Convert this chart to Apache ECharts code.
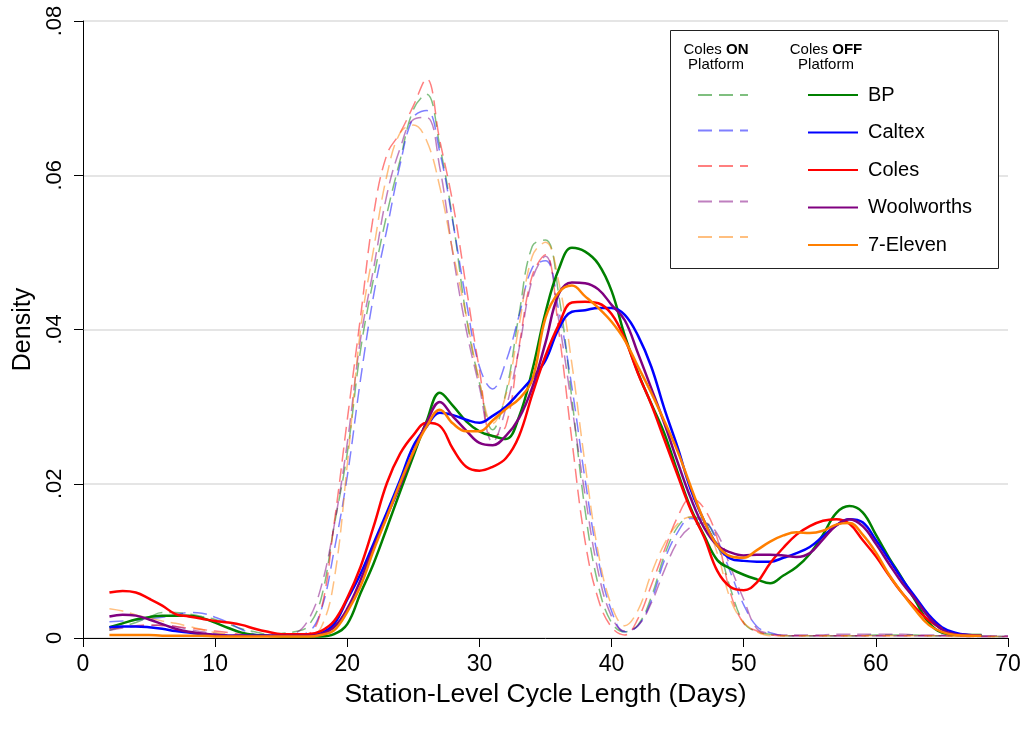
<!DOCTYPE html>
<html>
<head>
<meta charset="utf-8">
<script src="https://cdn.jsdelivr.net/npm/echarts@6/dist/echarts.min.js"></script>
<style>html,body{margin:0;padding:0;background:#fff}#chart{width:1024px;height:732px}</style>
</head>
<body>
<div id="chart"></div>
<script>
// ---- data ----
const days = [2,3,4,5,6,7,8,9,10,11,12,13,14,15,16,17,18,19,20,21,22,23,24,25,26,27,28,29,30,31,32,33,34,35,36,37,38,39,40,41,42,43,44,45,46,47,48,49,50,51,52,53,54,55,56,57,58,59,60,61,62,63,64,65,66,67,68,69,70];
const brands = ['BP', 'Caltex', 'Coles', 'Woolworths', '7-Eleven'];
const xTicks = [0, 10, 20, 30, 40, 50, 60, 70];
const yTicks = [0, 0.02, 0.04, 0.06, 0.08];

// Coles OFF platform (solid)
const bpOff = [0.0014,0.0019,0.0024,0.0027,0.0029,0.0029,0.0029,0.0026,0.0020,0.0013,0.0007,0.0004,0.0003,0.0002,0.0002,0.0002,0.0002,0.0005,0.0018,0.0058,0.0097,0.0143,0.0190,0.0236,0.0281,0.0318,0.0301,0.0281,0.0268,0.0262,0.0258,0.0287,0.0347,0.0422,0.0478,0.0506,0.0501,0.0485,0.0450,0.0392,0.0344,0.0304,0.0265,0.0215,0.0168,0.0133,0.0101,0.0090,0.0082,0.0076,0.0071,0.0081,0.0092,0.0109,0.0134,0.0162,0.0171,0.0163,0.0134,0.0104,0.0077,0.0048,0.0020,0.0007,0.0005,0.0004,0.0004,null,null];
const caltexOff = [0.0014,0.0015,0.0015,0.0014,0.0012,0.0009,0.0007,0.0005,0.0004,0.0003,0.0003,0.0003,0.0003,0.0003,0.0003,0.0003,0.0006,0.0018,0.0050,0.0083,0.0123,0.0163,0.0205,0.0249,0.0274,0.0292,0.0289,0.0283,0.0279,0.0288,0.0300,0.0318,0.0337,0.0360,0.0401,0.0423,0.0425,0.0428,0.0428,0.0419,0.0392,0.0352,0.0297,0.0247,0.0192,0.0152,0.0120,0.0103,0.0100,0.0099,0.0099,0.0104,0.0110,0.0118,0.0132,0.0146,0.0154,0.0150,0.0127,0.0102,0.0076,0.0053,0.0030,0.0014,0.0007,0.0004,0.0003,null,null];
const colesOff = [0.0059,0.0061,0.0059,0.0051,0.0042,0.0031,0.0028,0.0025,0.0022,0.0020,0.0017,0.0012,0.0008,0.0005,0.0005,0.0005,0.0009,0.0022,0.0052,0.0092,0.0145,0.0201,0.0239,0.0263,0.0279,0.0275,0.0245,0.0222,0.0217,0.0222,0.0233,0.0262,0.0316,0.0366,0.0406,0.0435,0.0436,0.0434,0.0420,0.0388,0.0343,0.0303,0.0257,0.0211,0.0166,0.0131,0.0087,0.0066,0.0062,0.0072,0.0097,0.0117,0.0134,0.0145,0.0152,0.0154,0.0148,0.0127,0.0106,0.0081,0.0058,0.0039,0.0023,0.0012,null,null,null,null,null];
const woolOff = [0.0028,0.0030,0.0029,0.0024,0.0018,0.0012,0.0008,0.0006,0.0004,0.0003,0.0003,0.0003,0.0003,0.0003,0.0003,0.0003,0.0005,0.0014,0.0038,0.0075,0.0118,0.0158,0.0198,0.0241,0.0279,0.0306,0.0287,0.0269,0.0253,0.0250,0.0262,0.0285,0.0325,0.0383,0.0446,0.0461,0.0460,0.0452,0.0432,0.0412,0.0369,0.0324,0.0278,0.0228,0.0181,0.0143,0.0120,0.0111,0.0107,0.0108,0.0108,0.0107,0.0105,0.0110,0.0128,0.0146,0.0154,0.0145,0.0122,0.0096,0.0071,0.0050,0.0027,0.0011,0.0005,0.0004,0.0003,null,null];
const elevenOff = [0.0004,0.0004,0.0004,0.0004,0.0003,0.0003,0.0003,0.0003,0.0002,0.0002,0.0002,0.0002,0.0002,0.0002,0.0002,0.0002,0.0004,0.0010,0.0034,0.0067,0.0114,0.0157,0.0201,0.0241,0.0274,0.0296,0.0278,0.0268,0.0268,0.0282,0.0297,0.0310,0.0335,0.0415,0.0448,0.0457,0.0443,0.0428,0.0410,0.0386,0.0352,0.0318,0.0281,0.0242,0.0196,0.0152,0.0120,0.0106,0.0104,0.0114,0.0125,0.0133,0.0137,0.0136,0.0139,0.0147,0.0149,0.0134,0.0111,0.0082,0.0058,0.0036,0.0017,0.0008,0.0004,0.0003,0.0003,null,null];

// Coles ON platform (dashed)
const bpOn = [0.0010,0.0015,0.0020,0.0027,0.0033,0.0033,0.0031,0.0028,0.0024,0.0018,0.0012,0.0008,0.0005,0.0006,0.0008,0.0015,0.0050,0.0145,0.0240,0.0373,0.0467,0.0550,0.0620,0.0685,0.0705,0.0638,0.0540,0.0417,0.0331,0.0270,0.0318,0.0420,0.0508,0.0516,0.0445,0.0310,0.0165,0.0068,0.0020,0.0008,0.0017,0.0053,0.0107,0.0144,0.0157,0.0153,0.0122,0.0064,0.0020,0.0008,0.0005,0.0003,0.0003,0.0003,0.0003,0.0003,0.0003,0.0003,0.0004,0.0004,0.0004,0.0004,0.0003,0.0003,0.0003,0.0003,0.0003,0.0002,0.0002];
const caltexOn = [0.0021,0.0022,0.0023,0.0025,0.0027,0.0030,0.0033,0.0032,0.0027,0.0020,0.0011,0.0005,0.0003,0.0003,0.0004,0.0007,0.0035,0.0113,0.0210,0.0335,0.0445,0.0530,0.0614,0.0675,0.0684,0.0630,0.0538,0.0437,0.0352,0.0323,0.0358,0.0418,0.0480,0.0489,0.0425,0.0325,0.0205,0.0101,0.0035,0.0008,0.0016,0.0048,0.0101,0.0137,0.0155,0.0152,0.0127,0.0085,0.0043,0.0015,0.0007,0.0003,0.0003,0.0003,0.0003,0.0003,0.0003,0.0003,0.0003,0.0003,0.0003,0.0003,0.0003,0.0003,0.0003,0.0002,0.0002,0.0002,0.0002];
const colesOn = [0.0012,0.0014,0.0016,0.0017,0.0016,0.0015,0.0013,0.0011,0.0009,0.0007,0.0005,0.0004,0.0003,0.0003,0.0004,0.0005,0.0035,0.0148,0.0283,0.0416,0.0550,0.0627,0.0655,0.0690,0.0725,0.0645,0.0563,0.0455,0.0348,0.0261,0.0275,0.0378,0.0470,0.0497,0.0398,0.0256,0.0125,0.0050,0.0014,0.0004,0.0025,0.0068,0.0114,0.0157,0.0181,0.0168,0.0129,0.0058,0.0019,0.0009,0.0004,0.0003,0.0003,0.0003,0.0003,0.0003,0.0003,0.0003,0.0003,0.0003,0.0003,0.0003,0.0003,0.0003,0.0002,0.0002,0.0002,0.0002,0.0002];
const woolOn = [0.0010,0.0013,0.0015,0.0016,0.0017,0.0015,0.0011,0.0008,0.0006,0.0004,0.0004,0.0004,0.0004,0.0004,0.0006,0.0022,0.0065,0.0145,0.0253,0.0387,0.0480,0.0575,0.0635,0.0672,0.0675,0.0610,0.0497,0.0400,0.0325,0.0254,0.0298,0.0375,0.0465,0.0495,0.0412,0.0300,0.0185,0.0085,0.0028,0.0009,0.0016,0.0045,0.0088,0.0125,0.0144,0.0149,0.0135,0.0092,0.0050,0.0012,0.0006,0.0004,0.0004,0.0004,0.0004,0.0005,0.0005,0.0005,0.0005,0.0005,0.0005,0.0004,0.0004,0.0004,0.0004,0.0003,0.0003,0.0003,0.0003];
const elevenOn = [0.0038,0.0035,0.0030,0.0026,0.0022,0.0019,0.0015,0.0011,0.0007,0.0005,0.0003,0.0003,0.0003,0.0003,0.0003,0.0003,0.0013,0.0075,0.0225,0.0400,0.0505,0.0600,0.0655,0.0665,0.0645,0.0585,0.0500,0.0418,0.0333,0.0278,0.0315,0.0405,0.0495,0.0513,0.0462,0.0355,0.0225,0.0110,0.0042,0.0016,0.0036,0.0083,0.0122,0.0148,0.0157,0.0149,0.0110,0.0050,0.0020,0.0008,0.0003,0.0003,0.0003,0.0003,0.0003,0.0003,0.0003,0.0003,0.0003,0.0003,0.0003,0.0003,0.0003,0.0003,0.0002,0.0002,0.0002,0.0002,0.0002];

const colors = ['#008000', '#0000ff', '#ff0000', '#800080', '#ff7f00'];
const offData = [bpOff, caltexOff, colesOff, woolOff, elevenOff];
const onData = [bpOn, caltexOn, colesOn, woolOn, elevenOn];

const FONT = "'Liberation Sans', Arial, Helvetica, sans-serif";
const pairs = arr => days.map((d, i) => [d, arr[i]]);

const series = [];
brands.forEach((b, i) => {
  series.push({
    name: b + ' (ON)', type: 'line', data: pairs(onData[i]), smooth: 0.4,
    symbol: 'none', showSymbol: false, silent: true, connectNulls: false,
    lineStyle: { color: colors[i], width: 1.5, type: [14, 7], opacity: 0.5 },
    itemStyle: { color: colors[i], opacity: 0.5 }, z: 2
  });
});
brands.forEach((b, i) => {
  series.push({
    name: b, type: 'line', data: pairs(offData[i]), smooth: 0.4,
    symbol: 'none', showSymbol: false, silent: true, connectNulls: false,
    lineStyle: { color: colors[i], width: 2.5 },
    itemStyle: { color: colors[i] }, z: 3
  });
});

const chart = echarts.init(document.getElementById('chart'), null, { renderer: 'canvas' });
chart.setOption({
  animation: false,
  backgroundColor: '#fff',
  textStyle: { fontFamily: FONT },
  grid: { left: 83, right: 16, top: 21, bottom: 94, containLabel: false },
  xAxis: {
    type: 'value', min: xTicks[0], max: xTicks[xTicks.length - 1], interval: 10,
    name: 'Station-Level Cycle Length (Days)', nameLocation: 'middle', nameGap: 37,
    nameTextStyle: { fontSize: 26.5, color: '#000', fontFamily: FONT },
    axisLine: { show: true, onZero: false, lineStyle: { color: '#000', width: 1 } },
    axisTick: { show: true, length: 9, lineStyle: { color: '#000', width: 1 } },
    axisLabel: { fontSize: 23, color: '#000', margin: 15, fontFamily: FONT },
    splitLine: { show: false }
  },
  yAxis: {
    type: 'value', min: yTicks[0], max: yTicks[yTicks.length - 1], interval: 0.02,
    name: 'Density', nameLocation: 'middle', nameGap: 46, nameRotate: 90,
    nameTextStyle: { fontSize: 25, color: '#000', fontFamily: FONT },
    axisLine: { show: true, lineStyle: { color: '#000', width: 1 } },
    axisTick: { show: true, length: 9, lineStyle: { color: '#000', width: 1 } },
    axisLabel: {
      rotate: 90, fontSize: 22, color: '#000', margin: 17, fontFamily: FONT,
      formatter: v => v === 0 ? '0' : v.toFixed(2).replace(/^0/, '')
    },
    splitLine: { show: true, lineStyle: { color: '#dcdcdc', width: 1.5 } }
  },
  legend: [
    {
      orient: 'vertical', left: 692, top: 80, itemWidth: 50, itemHeight: 20, itemGap: 17.5,
      data: brands.map(b => b + ' (ON)'), formatter: () => '', selectedMode: false,
      itemStyle: { opacity: 0, borderWidth: 0 },
      textStyle: { fontSize: 20 }, z: 6
    },
    {
      orient: 'vertical', left: 802, top: 80, itemWidth: 50, itemHeight: 20, itemGap: 17.5,
      data: brands, selectedMode: false,
      itemStyle: { opacity: 0, borderWidth: 0 },
      textStyle: { fontSize: 20, color: '#000', fontFamily: FONT, padding: [0, 0, 0, 5] }, z: 6
    }
  ],
  graphic: [
    { type: 'rect', z: 4, shape: { x: 670.5, y: 30.5, width: 328, height: 238 },
      style: { fill: '#fff', stroke: '#222', lineWidth: 1 } },
    { type: 'text', z: 6, x: 716, y: 42,
      style: { text: '{n|Coles }{b|ON}\n{n|Platform}', align: 'center', verticalAlign: 'top',
        rich: { n: { fontSize: 15, fontFamily: FONT, fill: '#000', lineHeight: 15 },
                b: { fontSize: 15, fontFamily: FONT, fontWeight: 'bold', fill: '#000', lineHeight: 15 } } } },
    { type: 'text', z: 6, x: 826, y: 42,
      style: { text: '{n|Coles }{b|OFF}\n{n|Platform}', align: 'center', verticalAlign: 'top',
        rich: { n: { fontSize: 15, fontFamily: FONT, fill: '#000', lineHeight: 15 },
                b: { fontSize: 15, fontFamily: FONT, fontWeight: 'bold', fill: '#000', lineHeight: 15 } } } }
  ],
  series: series
});
</script>
</body>
</html>
